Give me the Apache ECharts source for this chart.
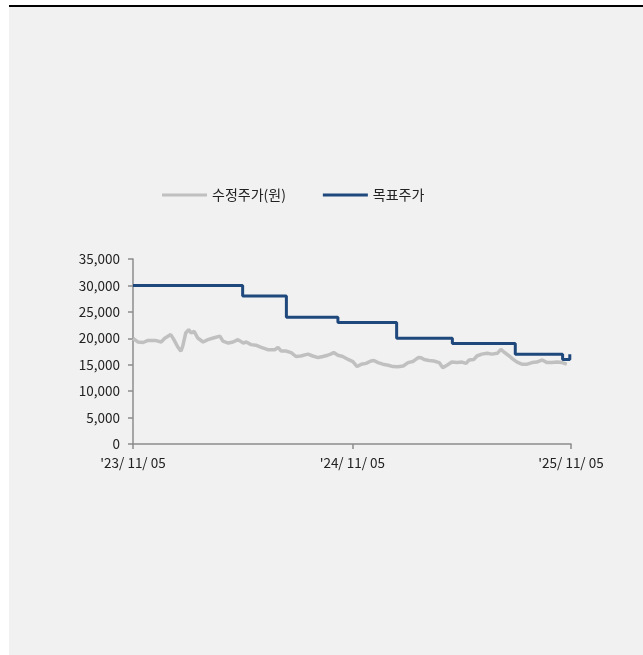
<!DOCTYPE html>
<html><head><meta charset="utf-8">
<script src="https://cdn.jsdelivr.net/npm/echarts@6/dist/echarts.min.js"></script>
<style>
html,body{margin:0;padding:0;background:#fff;width:643px;height:655px;overflow:hidden;}
#panel{position:absolute;left:9px;top:5px;width:634px;height:650px;background:#f1f1f1;border-top:2px solid #000;box-sizing:border-box;}
#chart{position:absolute;left:0;top:0;width:643px;height:655px;}
</style></head>
<body>
<div id="panel"></div>
<div id="chart"></div>
<script>
// ---- data ----
const seriesNames = ['수정주가(원)', '목표주가'];
const xTickDates = ['2023-11-05', '2024-11-05', '2025-11-05'];
const yTicks = [0, 5000, 10000, 15000, 20000, 25000, 30000, 35000];

const priceDates = [
 '2023-11-05','2023-11-13','2023-11-22','2023-11-30','2023-12-12','2023-12-22','2023-12-28',
 '2024-01-07','2024-01-12','2024-01-19','2024-01-24','2024-01-27','2024-02-01','2024-02-06',
 '2024-02-10','2024-02-15','2024-02-21','2024-03-01','2024-03-09','2024-03-18','2024-03-29',
 '2024-04-03','2024-04-12','2024-04-20','2024-04-28','2024-05-07','2024-05-12','2024-05-20',
 '2024-05-28','2024-06-06','2024-06-17','2024-06-29','2024-07-04','2024-07-09','2024-07-17',
 '2024-07-26','2024-08-03','2024-08-11','2024-08-23','2024-08-31','2024-09-09','2024-09-17',
 '2024-09-25','2024-09-30','2024-10-05','2024-10-12','2024-10-20','2024-10-29','2024-11-06',
 '2024-11-13','2024-11-20','2024-11-28','2024-12-06','2024-12-11','2024-12-18','2024-12-26',
 '2025-01-04','2025-01-12','2025-01-20','2025-01-29','2025-02-06','2025-02-14','2025-02-23',
 '2025-02-28','2025-03-05','2025-03-13','2025-03-21','2025-03-30','2025-04-05','2025-04-12',
 '2025-04-20','2025-04-29','2025-05-07','2025-05-14','2025-05-19','2025-05-27','2025-06-01',
 '2025-06-09','2025-06-18','2025-06-26','2025-07-05','2025-07-11','2025-07-16','2025-07-25',
 '2025-07-30','2025-08-07','2025-08-15','2025-08-24','2025-09-01','2025-09-09','2025-09-18',
 '2025-09-26','2025-10-04','2025-10-13','2025-10-21','2025-10-29'
];
const priceValues = [
 20000,19300,19200,19600,19600,19300,20000,
 20700,19800,18300,17550,18500,21000,21650,
 21000,21300,20050,19300,19750,20050,20400,
 19450,19100,19300,19750,19100,19300,18800,
 18700,18300,17850,17850,18300,17600,17600,
 17300,16550,16650,17000,16650,16350,16550,
 16800,17000,17300,16800,16550,16000,15600,
 14650,15100,15250,15700,15800,15400,15100,
 14900,14650,14600,14750,15400,15600,16350,
 16300,16000,15800,15700,15400,14450,14900,
 15500,15400,15500,15250,15900,16000,16650,
 17000,17150,17000,17150,17900,17400,16650,
 16150,15500,15100,15100,15400,15500,15900,
 15400,15400,15500,15400,15100
];

const targetDates = ['2023-11-05','2024-05-06','2024-07-18','2024-10-12','2025-01-18','2025-04-21','2025-08-04','2025-10-22','2025-11-03','2025-11-04'];
const targetValues = [30000,28000,24000,23000,20000,19000,17000,16000,17000,17000];

// ---- helpers ----
function toTs(s){ const p = s.split('-').map(Number); return new Date(p[0], p[1]-1, p[2]).getTime(); }
function pairs(ds, vs){ return ds.map((d,i)=>[toTs(d), vs[i]]); }

const chart = echarts.init(document.getElementById('chart'), null, {renderer:'canvas'});
const FONT = "'Noto Sans CJK KR', 'Noto Sans', sans-serif";
const xTicks = xTickDates.map(toTs);

chart.setOption({
  backgroundColor: 'transparent',
  animation: false,
  textStyle: {fontFamily: FONT},
  legend: {
    top: 188, left: 162, padding: 0,
    itemWidth: 45, itemHeight: 3, itemGap: 37,
    icon: 'rect',
    textStyle: {fontFamily: FONT, fontSize: 14, color: '#222'},
    data: seriesNames
  },
  grid: {left: 133, right: 72, top: 259, bottom: 211},
  xAxis: {
    type: 'value',
    min: xTicks[0], max: xTicks[xTicks.length-1],
    splitLine: {show: false},
    axisLine: {lineStyle: {color: '#8c8c8c', width: 1.5}},
    axisTick: {show: true, length: 5, lineStyle: {color: '#8c8c8c', width: 1.5}, customValues: xTicks},
    axisLabel: {
      customValues: xTicks, margin: 12, color: '#222', fontSize: 13.5, fontFamily: FONT,
      showMinLabel: true, showMaxLabel: true,
      formatter: function(v){
        const d = new Date(v);
        const yy = String(d.getFullYear()).slice(2);
        const mm = String(d.getMonth()+1).padStart(2,'0');
        const dd = String(d.getDate()).padStart(2,'0');
        return "'" + yy + '/ ' + mm + '/ ' + dd;
      }
    }
  },
  yAxis: {
    type: 'value',
    min: yTicks[0], max: yTicks[yTicks.length-1], interval: yTicks[1]-yTicks[0],
    splitLine: {show: false},
    axisLine: {show: true, lineStyle: {color: '#8c8c8c', width: 1.5}},
    axisTick: {show: true, length: 5, lineStyle: {color: '#8c8c8c', width: 1.5}},
    axisLabel: {
      margin: 13, color: '#222', fontSize: 13.5, fontFamily: FONT,
      formatter: v => v.toLocaleString('en-US')
    }
  },
  series: [
    {
      name: seriesNames[0], type: 'line', showSymbol: false, symbol: 'none',
      data: pairs(priceDates, priceValues),
      lineStyle: {color: '#c0c0c0', width: 3.5},
      itemStyle: {color: '#c0c0c0'},
      z: 2
    },
    {
      name: seriesNames[1], type: 'line', showSymbol: false, symbol: 'none', step: 'end',
      data: pairs(targetDates, targetValues),
      lineStyle: {color: '#1f487c', width: 3},
      itemStyle: {color: '#1f487c'},
      z: 3
    }
  ]
});
</script>
</body></html>
